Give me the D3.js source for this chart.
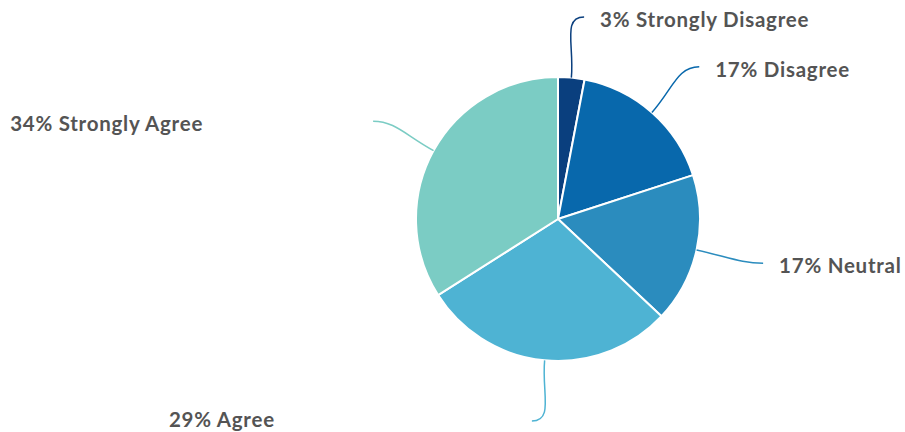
<!DOCTYPE html>
<html>
<head>
<meta charset="utf-8">
<script src="https://cdn.jsdelivr.net/npm/d3@7"></script>
<style>
  html, body { margin: 0; padding: 0; background: #fff; }
  svg { display: block; }
  .lbl { font-family: Lato, "Noto Sans", sans-serif; font-weight: 700; font-size: 20.5px; letter-spacing: 0.75px; fill: #545454; }
</style>
</head>
<body>
<svg id="chart" width="905" height="432"></svg>
<script>
// Survey responses, clockwise from 12 o'clock
const categories = ["Strongly Disagree", "Disagree", "Neutral", "Agree", "Strongly Agree"];
const values = [3, 17, 17, 29, 34];
const colors = ["#0a3f7e", "#0868ac", "#2b8cbe", "#4eb3d3", "#7bccc4"];

const width = 905, height = 432;
const cx = 558, cy = 219, radius = 142;
const labelRadius = 203;     // radial reach of each leader line
const hookLength = 7;        // horizontal run at the end of each leader line
const labelGap = 16;         // space between line end and text
const leftLabelBox = 347;    // width reserved for labels on the left side
const bottomPad = 5;         // keep descenders inside the canvas

const svg = d3.select("#chart");
const g = svg.append("g").attr("transform", `translate(${cx},${cy})`);

const data = categories.map((c, i) => ({ name: c, value: values[i], color: colors[i] }));

const pie = d3.pie().value(d => d.value).sort(null);
const arcs = pie(data);
const arc = d3.arc().innerRadius(0).outerRadius(radius);

g.selectAll("path.slice")
  .data(arcs)
  .join("path")
  .attr("class", "slice")
  .attr("d", arc)
  .attr("fill", d => d.data.color)
  .attr("stroke", "#fff")
  .attr("stroke-width", 2)
  .attr("stroke-linejoin", "round");

// point at radius r along an angle measured clockwise from 12 o'clock
const polar = (a, r) => [Math.sin(a) * r, -Math.cos(a) * r];

arcs.forEach(d => {
  const mid = (d.startAngle + d.endAngle) / 2;
  const [x0, y0] = polar(mid, radius);
  const [xr, yr] = polar(mid, labelRadius);
  const right = xr >= 0;
  const dir = right ? 1 : -1;
  const x3 = xr + dir * hookLength, y3 = yr;
  const [x1, y1] = polar(mid, radius + 32);
  const x2 = x3 - dir * 22, y2 = y3;

  const p = d3.path();
  p.moveTo(x0, y0);
  p.bezierCurveTo(x1, y1, x2, y2, x3, y3);
  g.append("path")
    .attr("d", p.toString())
    .attr("fill", "none")
    .attr("stroke", d.data.color)
    .attr("stroke-width", 1.5);

  const tx = right ? x3 + labelGap : x3 - labelGap - leftLabelBox;
  const ty = Math.min(y3 + 10, height - cy - bottomPad);
  g.append("text")
    .attr("class", "lbl")
    .attr("x", tx)
    .attr("y", ty)
    .attr("text-anchor", "start")
    .text(`${d.data.value}% ${d.data.name}`);
});
</script>
</body>
</html>
